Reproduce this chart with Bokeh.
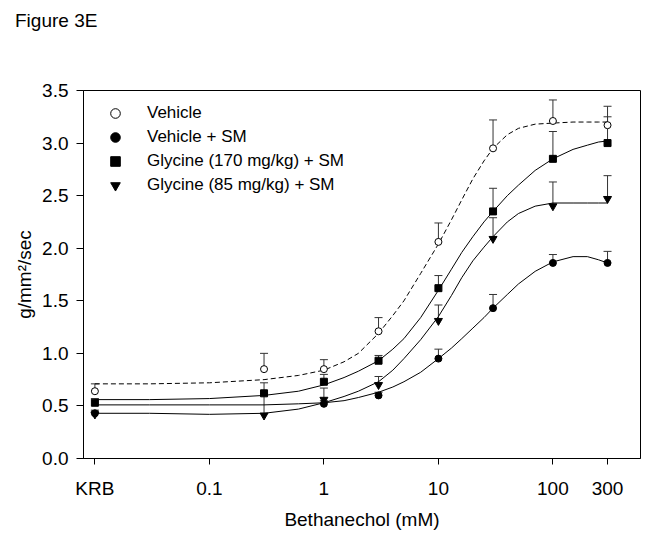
from bokeh.plotting import figure
from bokeh.layouts import column
from bokeh.models import (ColumnDataSource, Whisker, TeeHead, FixedTicker, Legend,
                          LegendItem, CustomJSTickFormatter, Div)
from bokeh.embed import file_html
from bokeh.resources import INLINE

# ---------------- data ----------------
KRB_POS = 0.01  # where the KRB (no agonist) baseline is drawn on the log axis
tick_values = [0.01, 0.1, 1, 10, 100, 300]
tick_labels = ["KRB", "0.1", "1", "10", "100", "300"]
y_ticks = [0, 0.5, 1, 1.5, 2, 2.5, 3, 3.5]

veh_x = [0.01, 0.3, 1, 3, 10, 30, 100, 300]
veh_y = [0.64, 0.85, 0.85, 1.21, 2.06, 2.95, 3.21, 3.17]
veh_sem = [0.07, 0.15, 0.09, 0.13, 0.18, 0.27, 0.20, 0.18]

sm_x = [0.01, 1, 3, 10, 30, 100, 300]
sm_y = [0.43, 0.52, 0.60, 0.95, 1.43, 1.86, 1.86]
sm_sem = [0.03, 0.03, 0.03, 0.09, 0.13, 0.08, 0.11]

g170_x = [0.01, 0.3, 1, 3, 10, 30, 100, 300]
g170_y = [0.53, 0.62, 0.73, 0.93, 1.62, 2.35, 2.85, 3.00]
g170_sem = [0.04, 0.10, 0.07, 0.05, 0.12, 0.22, 0.26, 0.25]

g85_x = [0.01, 0.3, 1, 3, 10, 30, 100, 300]
g85_y = [0.42, 0.41, 0.56, 0.70, 1.31, 2.09, 2.40, 2.47]
g85_sem = [0.03, 0.21, 0.11, 0.08, 0.15, 0.20, 0.23, 0.22]

# fitted curves
fit_x = [0.01, 0.03, 0.1, 0.3, 0.6, 1, 1.5, 2, 3, 4, 5, 7, 10, 13, 16, 20, 25, 30,
         40, 50, 70, 100, 150, 200, 250, 300]
veh_fit = [0.71, 0.71, 0.72, 0.75, 0.79, 0.84, 0.92, 1.00, 1.19, 1.36, 1.50, 1.76, 2.04,
           2.27, 2.46, 2.66, 2.83, 2.95, 3.08, 3.14, 3.18, 3.19, 3.20, 3.20, 3.20, 3.20]
sm_fit = [0.51, 0.51, 0.51, 0.51, 0.52, 0.53, 0.55, 0.58, 0.63, 0.68, 0.73, 0.82, 0.95,
          1.05, 1.14, 1.24, 1.34, 1.43, 1.56, 1.66, 1.78, 1.87, 1.92, 1.92, 1.89, 1.86]
g170_fit = [0.56, 0.56, 0.57, 0.60, 0.64, 0.70, 0.77, 0.83, 0.93, 1.04, 1.14, 1.34, 1.60,
            1.80, 1.96, 2.11, 2.25, 2.35, 2.50, 2.60, 2.74, 2.85, 2.94, 2.98, 3.01, 3.02]
g85_fit = [0.43, 0.43, 0.42, 0.43, 0.47, 0.53, 0.59, 0.64, 0.73, 0.84, 0.95, 1.13, 1.35,
           1.55, 1.72, 1.88, 2.01, 2.11, 2.25, 2.33, 2.40, 2.43, 2.43, 2.43, 2.43, 2.43]

series_names = ["Vehicle", "Vehicle + SM", "Glycine (170 mg/kg) + SM", "Glycine (85 mg/kg) + SM"]
figure_title = "Figure 3E"

FONT = "Liberation Sans"

title_div = Div(text=figure_title, width=600, height=30, margin=(10, 0, 0, 15),
                styles={"font-family": FONT, "font-size": "19px", "color": "black",
                        "line-height": "22px"})

p = figure(width=658, height=493, x_axis_type="log",
           x_range=(10 ** -2.0996, 10 ** 2.765), y_range=(0, 3.5),
           output_backend="svg", toolbar_location=None,
           min_border_left=83, min_border_right=18, min_border_top=50, min_border_bottom=75)
p.grid.visible = False
p.outline_line_color = "black"
p.outline_line_width = 1
p.background_fill_color = "white"
p.border_fill_color = "white"

# axes
p.xaxis.ticker = FixedTicker(ticks=tick_values)
p.xaxis.major_label_overrides = {v: l for v, l in zip(tick_values, tick_labels)}
p.yaxis.ticker = FixedTicker(ticks=y_ticks)
p.yaxis.formatter = CustomJSTickFormatter(code="return tick.toFixed(1);")
for ax in (p.xaxis[0], p.yaxis[0]):
    ax.minor_tick_line_color = None
    ax.major_tick_in = 0
    ax.major_tick_out = 7
    ax.major_tick_line_color = "black"
    ax.axis_line_color = "black"
    ax.major_label_text_font = FONT
    ax.major_label_text_font_size = "19px"
    ax.major_label_text_color = "black"
    ax.axis_label_text_font = FONT
    ax.axis_label_text_font_size = "19px"
    ax.axis_label_text_font_style = "normal"
    ax.axis_label_text_color = "black"
p.xaxis.major_tick_out = 6
p.xaxis.major_label_standoff = 13
p.xaxis.axis_label = "Bethanechol (mM)"
p.xaxis.axis_label_standoff = 7
p.yaxis.major_label_standoff = 8
p.yaxis.axis_label = "g/mm²/sec"
p.yaxis.axis_label_standoff = 4

# fitted curves
p.line(fit_x, veh_fit, line_color="black", line_width=1, line_dash="5 3")
p.line(fit_x, sm_fit, line_color="black", line_width=1)
p.line(fit_x, g170_fit, line_color="black", line_width=1)
p.line(fit_x, g85_fit, line_color="black", line_width=1)

# error bars (upward only) and markers
specs = [
    (veh_x, veh_y, veh_sem, "circle", "white", 7),
    (sm_x, sm_y, sm_sem, "circle", "black", 7),
    (g170_x, g170_y, g170_sem, "square", "black", 7),
    (g85_x, g85_y, g85_sem, "inverted_triangle", "black", 8),
]
for xs, ys, sems, marker, fill, size in specs:
    src = ColumnDataSource(dict(x=xs, y=ys, upper=[a + b for a, b in zip(ys, sems)]))
    p.add_layout(Whisker(source=src, base="x", lower="y", upper="upper", dimension="height",
                         line_color="#333333", line_width=1,
                         upper_head=TeeHead(size=8, line_color="#333333", line_width=1),
                         lower_head=None))
renderers = []
for xs, ys, sems, marker, fill, size in specs:
    renderers.append(p.scatter(xs, ys, marker=marker, size=size, fill_color=fill,
                               line_color="black", line_width=1))

legend = Legend(items=[LegendItem(label=n, renderers=[r]) for n, r in zip(series_names, renderers)],
                location=(20, 261), border_line_color=None,
                background_fill_alpha=0, padding=0, margin=0, spacing=0,
                label_height=24, glyph_height=24, glyph_width=24, label_standoff=20,
                label_text_font=FONT, label_text_font_size="17px", label_text_color="black")
p.add_layout(legend, "center")

page = column(title_div, p, spacing=0)

open("out.html", "w").write(file_html(page, INLINE))
